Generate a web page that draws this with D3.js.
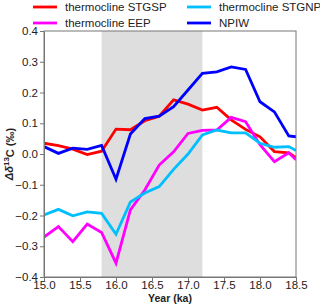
<!DOCTYPE html>
<html>
<head>
<meta charset="utf-8">
<script src="https://cdn.jsdelivr.net/npm/d3@7"></script>
<style>
  body { margin: 0; background: #fff; }
  svg { display: block; font-family: "Liberation Sans", Arial, sans-serif; }
</style>
</head>
<body>
<script>
// data (ka, per mil)
var years = [15.0, 15.2, 15.4, 15.6, 15.8, 16.0, 16.2, 16.4, 16.6, 16.8, 17.0, 17.2, 17.4, 17.6, 17.8, 18.0, 18.2, 18.4, 18.5];
var stgsp = [0.035, 0.027, 0.016, -0.002, 0.009, 0.081, 0.079, 0.108, 0.123, 0.176, 0.162, 0.143, 0.152, 0.111, 0.080, 0.056, 0.008, 0.004, -0.012];
var eep   = [-0.270, -0.236, -0.285, -0.228, -0.255, -0.355, -0.182, -0.117, -0.036, 0.007, 0.067, 0.077, 0.078, 0.119, 0.105, 0.030, -0.025, 0.004, -0.019];
var stgnp = [-0.198, -0.180, -0.201, -0.188, -0.193, -0.261, -0.156, -0.127, -0.106, -0.050, 0.000, 0.062, 0.078, 0.069, 0.069, 0.035, 0.022, 0.024, 0.011];
var npiw  = [0.024, 0.002, 0.019, 0.015, 0.028, -0.082, 0.065, 0.115, 0.123, 0.154, 0.208, 0.262, 0.267, 0.283, 0.275, 0.170, 0.137, 0.059, 0.056];
var band = [15.8, 17.2];
var xTicks = [15.0, 15.5, 16.0, 16.5, 17.0, 17.5, 18.0, 18.5];
var yTicks = [-0.4, -0.3, -0.2, -0.1, 0.0, 0.1, 0.2, 0.3, 0.4];

var series = [
  {name: "thermocline STGSP", values: stgsp, color: "#ff0000"},
  {name: "thermocline EEP", values: eep, color: "#ff00ff"},
  {name: "thermocline STGNP", values: stgnp, color: "#00bfff"},
  {name: "NPIW", values: npiw, color: "#0000ff"}
];

var W = 320, H = 307;
var margin = {top: 31, right: 24, bottom: 30, left: 44};
var width = W - margin.left - margin.right,
    height = H - margin.top - margin.bottom;

var svg = d3.select("body").append("svg")
    .attr("width", W)
    .attr("height", H);

var g = svg.append("g")
    .attr("transform", "translate(" + margin.left + "," + margin.top + ")");

var x = d3.scaleLinear().domain([15, 18.5]).range([0, width]);
var y = d3.scaleLinear().domain([-0.4, 0.4]).range([height, 0]);

svg.append("defs").append("clipPath").attr("id", "clip")
  .append("rect").attr("width", width).attr("height", height);

// shaded interval
g.append("rect")
    .attr("x", x(band[0]))
    .attr("y", 0)
    .attr("width", x(band[1]) - x(band[0]))
    .attr("height", height)
    .attr("fill", "#dedede");

var line = d3.line()
    .x(function(d, i) { return x(years[i]); })
    .y(function(d) { return y(d); });

g.append("g").attr("clip-path", "url(#clip)")
  .selectAll("path")
  .data(series)
  .enter().append("path")
    .attr("d", function(s) { return line(s.values); })
    .attr("fill", "none")
    .attr("stroke", function(s) { return s.color; })
    .attr("stroke-width", 2.8)
    .attr("stroke-linejoin", "miter");

// frame
g.append("rect")
    .attr("width", width).attr("height", height)
    .attr("fill", "none").attr("stroke", "#777").attr("stroke-width", 1);

var xAxis = g.append("g")
    .attr("transform", "translate(0," + height + ")")
    .call(d3.axisBottom(x).tickValues(xTicks).tickFormat(d3.format(".1f")).tickSize(4).tickSizeOuter(0));
var yAxis = g.append("g")
    .call(d3.axisLeft(y).tickValues(yTicks).tickFormat(d3.format(".1f")).tickSize(4).tickSizeOuter(0));

[xAxis, yAxis].forEach(function(a) {
  a.select(".domain").attr("stroke", "#777");
  a.selectAll(".tick line").attr("stroke", "#777");
  a.selectAll(".tick text").attr("fill", "#222").style("font-size", "11.5px")
    .style("font-family", "Liberation Sans, Arial, sans-serif");
});
xAxis.selectAll(".tick text").attr("dy", "0.6em").attr("y", 5);
yAxis.selectAll(".tick text").attr("x", -6);

// axis titles
svg.append("text")
    .attr("x", margin.left + width / 2)
    .attr("y", 302)
    .attr("text-anchor", "middle")
    .attr("font-weight", "bold")
    .attr("font-size", "10.5px")
    .attr("fill", "#222")
    .text("Year (ka)");

var yl = svg.append("text")
    .attr("transform", "translate(13," + (margin.top + height / 2) + ") rotate(-90)")
    .attr("text-anchor", "middle")
    .attr("font-weight", "bold")
    .attr("font-size", "11px")
    .attr("fill", "#222");
yl.append("tspan").attr("font-style", "italic").text("Δδ");
yl.append("tspan").attr("font-size", "8px").attr("dy", "-0.5em").text("13");
yl.append("tspan").attr("dy", "0.45em").text("C (‰)");

// legend, two columns
var legendPos = [
  {x: 33, y: 7}, {x: 33, y: 23}, {x: 187, y: 7}, {x: 187, y: 23}
];
// order: col 1 red, magenta; col 2 cyan, blue
var leg = svg.append("g").selectAll("g")
  .data(series)
  .enter().append("g")
    .attr("transform", function(s, i) { return "translate(" + legendPos[i].x + "," + legendPos[i].y + ")"; });
leg.append("line")
    .attr("x1", 0).attr("x2", 24)
    .attr("stroke", function(s) { return s.color; })
    .attr("stroke-width", 2.8);
leg.append("text")
    .attr("x", 32).attr("dy", "0.35em")
    .attr("font-size", "11.5px")
    .attr("fill", "#222")
    .text(function(s) { return s.name; });
</script>
</body>
</html>
